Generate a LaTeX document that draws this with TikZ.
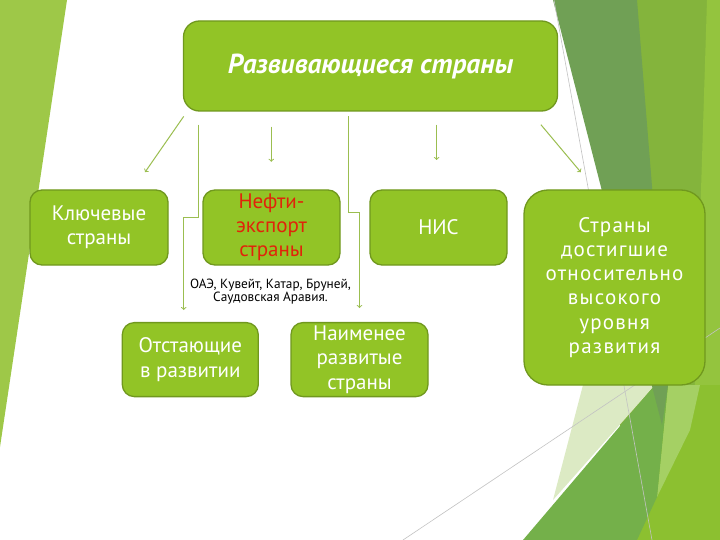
\documentclass[tikz,border=0pt]{standalone}
\usepackage{fontspec}
\setmainfont{PT Sans}
\usepackage{tikz}
\usetikzlibrary{shapes,arrows}
\definecolor{BoxGreen}{RGB}{146,196,38}
\definecolor{BoxLine}{RGB}{112,152,30}
\definecolor{ArrowGreen}{RGB}{155,190,80}
\definecolor{OilRed}{RGB}{225,35,10}
\definecolor{SideLight}{RGB}{158,200,72}
\definecolor{BandDark}{RGB}{112,160,85}
\definecolor{BandMid}{RGB}{132,180,60}
\definecolor{BandRight}{RGB}{148,196,62}
\definecolor{PaleGreen}{RGB}{220,234,196}
\definecolor{GrassGreen}{RGB}{116,176,74}
\definecolor{BrightGreen}{RGB}{140,192,48}
\definecolor{SoftGreen}{RGB}{165,208,100}
\definecolor{LineGray}{RGB}{195,195,195}

\begin{document}
\begin{tikzpicture}[x=1pt,y=-1pt]
		\tikzstyle{box}=[draw=BoxLine, line width=1.3pt, fill=BoxGreen, rounded corners=12pt, text=white, align=center, inner sep=0pt, font=\fontsize{21}{24.2}\selectfont];
		\tikzstyle{link}=[draw=ArrowGreen, line width=1pt, ->];
		\useasboundingbox (0,0) rectangle (720,540);
		% background
		\fill[white] (0,0) rectangle (720,540);
		\fill[SideLight] (0,0) -- (67,0) -- (0,447) -- cycle;
		\fill[BandMid] (620,0) -- (707,0) -- (705,540) -- (620,540) -- cycle;
		\fill[BandRight] (707,0) -- (720,0) -- (720,540) -- (690,540) -- cycle;
		\fill[BrightGreen] (660,385) -- (720,385) -- (720,540) -- (630,540) -- cycle;
		\fill[SoftGreen] (668,385) -- (700,385) -- (690,430) -- (657,497) -- cycle;
		\fill[PaleGreen] (583,385) -- (655,385) -- (553,500) -- cycle;
		\fill[GrassGreen] (655,385) -- (668,385) -- (657,497) -- (637,540) -- (523,540) -- cycle;
		\fill[BandDark] (553,0) -- (637,0) -- (668,385) -- (662,425) -- cycle;
		\draw[LineGray, line width=0.6pt] (403,540) -- (720,328);
		\draw[LineGray, line width=0.6pt] (554,0) -- (652,540);
		% boxes
		\node [box, minimum width=374, minimum height=90, rounded corners=16pt, font=\fontsize{27.5}{30}\selectfont\bfseries\itshape] (top) at (370.5,66) {Развивающиеся страны};
		\node [box, minimum width=138, minimum height=75] (key) at (99,227.5) {Ключевые\\страны};
		\node [box, minimum width=137, minimum height=75, text=OilRed] (oil) at (271.5,227.5) {Нефти-\\экспорт\\страны};
		\node [box, minimum width=137, minimum height=75] (nis) at (438.5,227.5) {НИС};
		\node [box, minimum width=181, minimum height=195, rounded corners=24pt, font=\fontsize{21}{24.2}\selectfont\addfontfeature{LetterSpace=6}] (high) at (614.5,287.5) {Страны\\достигшие\\относительно\\высокого\\уровня\\развития};
		\node [box, minimum width=136, minimum height=74] (lag) at (190.3,359.6) {Отстающие\\в развитии};
		\node [box, minimum width=137, minimum height=74] (least) at (359.5,359.6) {Наименее\\развитые\\страны};
		\node [align=center, inner sep=0pt, font=\fontsize{13.3}{13.2}\selectfont] (oilnote) at (270.5,291.3) {ОАЭ, Кувейт, Катар, Бруней,\\Саудовская Аравия.};
		% arrow ends
		\coordinate (keyS) at (183.7,116.4);
		\coordinate (keyE) at (145,172.2);
		\coordinate (lagS) at (198.3,124.7);
		\coordinate (lagE) at (183.7,310);
		\coordinate (oilS) at (271.3,126.7);
		\coordinate (oilE) at (271.3,161.8);
		\coordinate (leastS) at (348,116.4);
		\coordinate (leastE) at (359.5,308);
		\coordinate (nisS) at (436.6,124.7);
		\coordinate (nisE) at (436.6,160);
		\coordinate (highS) at (540.9,124.7);
		\coordinate (highE) at (580.8,172.2);
		\draw[link] (keyS) -- (keyE);
		\draw[link] (lagS) -- ++(0,92.9) -| (lagE);
		\draw[link] (oilS) -- (oilE);
		\draw[link] (leastS) -- ++(0,96.4) -| (leastE);
		\draw[link] (nisS) -- (nisE);
		\draw[link] (highS) -- (highE);
	\end{tikzpicture}
\end{document}
